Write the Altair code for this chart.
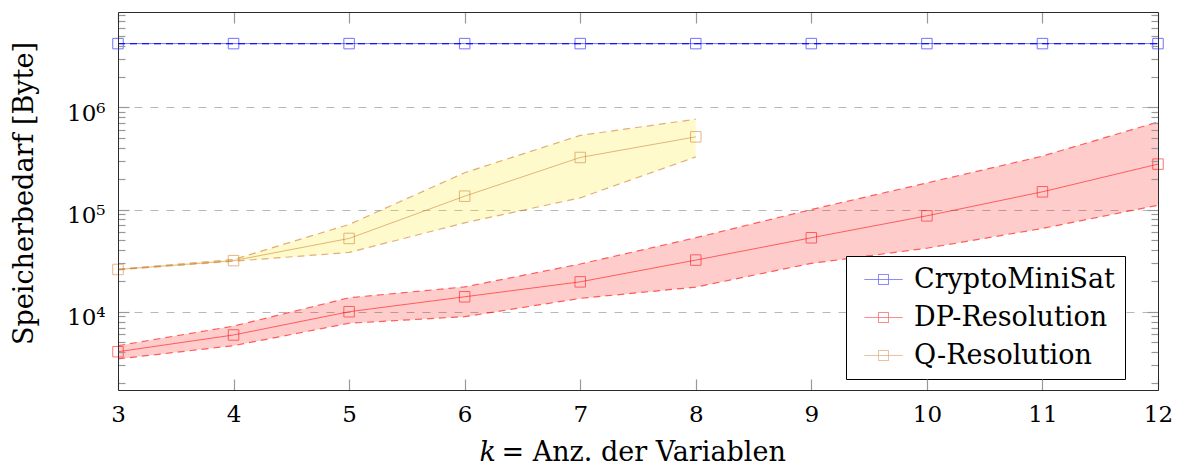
import altair as alt
import pandas as pd

# ---------------- data ----------------
k_values = [3, 4, 5, 6, 7, 8, 9, 10, 11, 12]
series_names = ["CryptoMiniSat", "DP-Resolution", "Q-Resolution"]
series_colors = ["#0000ff", "#ff0000", "#cc7b2b"]
band_colors = ["#0000ff", "#ff0000", "#ffe600"]

crypto_k = [3, 4, 5, 6, 7, 8, 9, 10, 11, 12]
crypto_mean = [4.2e6, 4.2e6, 4.2e6, 4.2e6, 4.2e6, 4.2e6, 4.2e6, 4.2e6, 4.2e6, 4.2e6]
crypto_lo = [4.2e6, 4.2e6, 4.2e6, 4.2e6, 4.2e6, 4.2e6, 4.2e6, 4.2e6, 4.2e6, 4.2e6]
crypto_hi = [4.2e6, 4.2e6, 4.2e6, 4.2e6, 4.2e6, 4.2e6, 4.2e6, 4.2e6, 4.2e6, 4.2e6]

dp_k = [3, 4, 5, 6, 7, 8, 9, 10, 11, 12]
dp_mean = [4060, 5920, 10000, 14000, 19600, 32000, 52900, 86700, 149000, 278000]
dp_lo = [3450, 4650, 7710, 8940, 13500, 17400, 29700, 41800, 65300, 110000]
dp_hi = [4650, 7230, 13700, 17500, 29300, 53000, 100000, 182000, 333000, 719000]

q_k = [3, 4, 5, 6, 7, 8]
q_mean = [25900, 31600, 52100, 135000, 323000, 514000]
q_lo = [25700, 31200, 38000, 74100, 130000, 327000]
q_hi = [26100, 32400, 71400, 229000, 531000, 765000]

y_major = [1e4, 1e5, 1e6]
y_minor = [2e3, 3e3, 4e3, 5e3, 6e3, 7e3, 8e3, 9e3,
           2e4, 3e4, 4e4, 5e4, 6e4, 7e4, 8e4, 9e4,
           2e5, 3e5, 4e5, 5e5, 6e5, 7e5, 8e5, 9e5,
           2e6, 3e6, 4e6, 5e6, 6e6, 7e6, 8e6]

rows = []
for name, ks, m, lo, hi in [
    ("CryptoMiniSat", crypto_k, crypto_mean, crypto_lo, crypto_hi),
    ("DP-Resolution", dp_k, dp_mean, dp_lo, dp_hi),
    ("Q-Resolution", q_k, q_mean, q_lo, q_hi),
]:
    for i in range(len(ks)):
        rows.append({"series": name, "k": ks[i], "mean": m[i], "lo": lo[i], "hi": hi[i]})
df = pd.DataFrame(rows)

# ---------------- styling ----------------
FONT = "DejaVu Serif"
W, H = 1040, 378
TICK_COLOR = "#999999"
FRAME = "#2b2b2b"

color_scale = alt.Scale(domain=series_names, range=series_colors)
x_scale = alt.Scale(domain=[3, 12], nice=False, zero=False)
y_scale = alt.Scale(type="log", domain=[1714, 8.56e6], nice=False)

major_test = "abs(log(datum.value)/LN10 - round(log(datum.value)/LN10)) < 0.001"
y_tick_size = {"condition": {"test": major_test, "value": 11}, "value": 7}
y_tick_vals = sorted(y_major + y_minor)

x_label_axis = alt.Axis(
    values=k_values, ticks=False, tickSize=0, domain=False, grid=False,
    labelFont=FONT, labelFontSize=23, labelColor="black", labelPadding=31,
    labelBaseline="alphabetic", labelFlush=False, labelOverlap=False,
    title="= Anz. der Variablen", titleFont=FONT, titleFontSize=27,
    titleFontWeight="normal", titleColor="black", titleX=383, titleY=70,
    titleAlign="left", titleBaseline="alphabetic",
)
y_label_axis = alt.Axis(
    values=y_major, orient="left", ticks=False, tickSize=0, domain=False,
    grid=True, gridDash=[8, 8], gridColor="#b8b8b8", gridWidth=1,
    labelExpr="'10' + (datum.value > 5e5 ? '⁶' : datum.value > 5e4 ? '⁵' : '⁴')",
    labelFont=FONT, labelFontSize=23, labelColor="black", labelPadding=13,
    labelBaseline="alphabetic", labelOffset=13, labelOverlap=False,
    title="Speicherbedarf [Byte]", titleFont=FONT, titleFontSize=27,
    titleFontWeight="normal", titleColor="black", titleX=-94, titleY=181,
    titleAngle=270, titleAlign="center", titleBaseline="middle",
)
x_tick_bottom = alt.Axis(
    values=k_values, orient="top", offset=-H, labels=False, grid=False,
    domain=True, domainColor=FRAME, domainWidth=1,
    ticks=True, tickSize=11, tickColor=TICK_COLOR, tickWidth=1.2,
    title="k", titleFont=FONT, titleFontStyle="italic", titleFontSize=27,
    titleFontWeight="normal", titleColor="black", titleX=361, titleY=70,
    titleAlign="left", titleBaseline="alphabetic", zindex=1,
)
x_tick_top = alt.Axis(
    values=k_values, orient="bottom", offset=-H, labels=False, grid=False,
    domain=True, domainColor=FRAME, domainWidth=1,
    ticks=True, tickSize=11, tickColor=TICK_COLOR, tickWidth=1.2,
    title=None, zindex=1,
)
y_tick_left = alt.Axis(
    values=y_tick_vals, orient="right", offset=-W, labels=False, grid=False,
    domain=True, domainColor=FRAME, domainWidth=1,
    ticks=True, tickSize=y_tick_size, tickColor=TICK_COLOR, tickWidth=1.2,
    title=None, zindex=1,
)
y_tick_right = alt.Axis(
    values=y_tick_vals, orient="left", offset=-W, labels=False, grid=False,
    domain=True, domainColor=FRAME, domainWidth=1,
    ticks=True, tickSize=y_tick_size, tickColor=TICK_COLOR, tickWidth=1.2,
    title=None, zindex=1,
)

# legend symbol: a short line with a square on it (drawn wider than its nominal size)
legend = alt.Legend(
    title=None, orient="none", legendX=728, legendY=244, direction="vertical",
    strokeColor="black", fillColor="white", padding=10, cornerRadius=0,
    labelFont=FONT, labelFontSize=27, labelColor="black", labelLimit=400,
    labelOffset=31,
    labelExpr="datum.label == 'Q-Resolution' ? '\u2002' + datum.label : datum.label",
    symbolType="M-1,0L6.6,0M1.8,-1L3.8,-1L3.8,1L1.8,1Z",
    symbolSize=100, symbolStrokeWidth=1, symbolFillColor="transparent",
    symbolDash=[1, 0], symbolOpacity=0.6, rowPadding=10,
)

base = alt.Chart(df)

# confidence bands, one per series with its own fill colour
bands = []
for i, name in enumerate(series_names):
    bands.append(
        base.transform_filter(alt.datum.series == name)
        .mark_area(opacity=0.2, color=band_colors[i])
        .encode(
            x=alt.X("k:Q", scale=x_scale, axis=x_label_axis if i == 0 else None),
            y=alt.Y("lo:Q", scale=y_scale, axis=y_label_axis if i == 0 else None),
            y2="hi:Q",
        )
    )

main = base.mark_line(strokeWidth=1, opacity=0.55).encode(
    x=alt.X("k:Q", scale=x_scale, axis=x_tick_bottom),
    y=alt.Y("mean:Q", scale=y_scale, axis=y_tick_left),
    color=alt.Color("series:N", scale=color_scale, legend=legend),
)

bounds = base.transform_fold(["lo", "hi"], as_=["bound", "val"]).mark_line(
    strokeWidth=1.2, strokeDash=[7, 5], opacity=0.6
).encode(
    x=alt.X("k:Q", scale=x_scale, axis=x_tick_top),
    y=alt.Y("val:Q", scale=y_scale, axis=y_tick_right),
    color=alt.Color("series:N", scale=color_scale, legend=legend),
    detail="bound:N",
)

points = base.mark_point(shape="square", filled=False, size=110, strokeWidth=1, opacity=0.55).encode(
    x=alt.X("k:Q", scale=x_scale, axis=None),
    y=alt.Y("mean:Q", scale=y_scale, axis=None),
    color=alt.Color("series:N", scale=color_scale, legend=legend),
)

chart = (
    alt.layer(*bands, main, bounds, points)
    .resolve_axis(x="independent", y="independent")
    .properties(
        width=W, height=H, autosize="none",
        padding={"left": 110, "top": 4, "right": 16, "bottom": 78},
        background="white",
    )
    .configure_view(stroke="transparent")
)

chart.save("out.html", embed_options={"renderer": "svg", "actions": False})
